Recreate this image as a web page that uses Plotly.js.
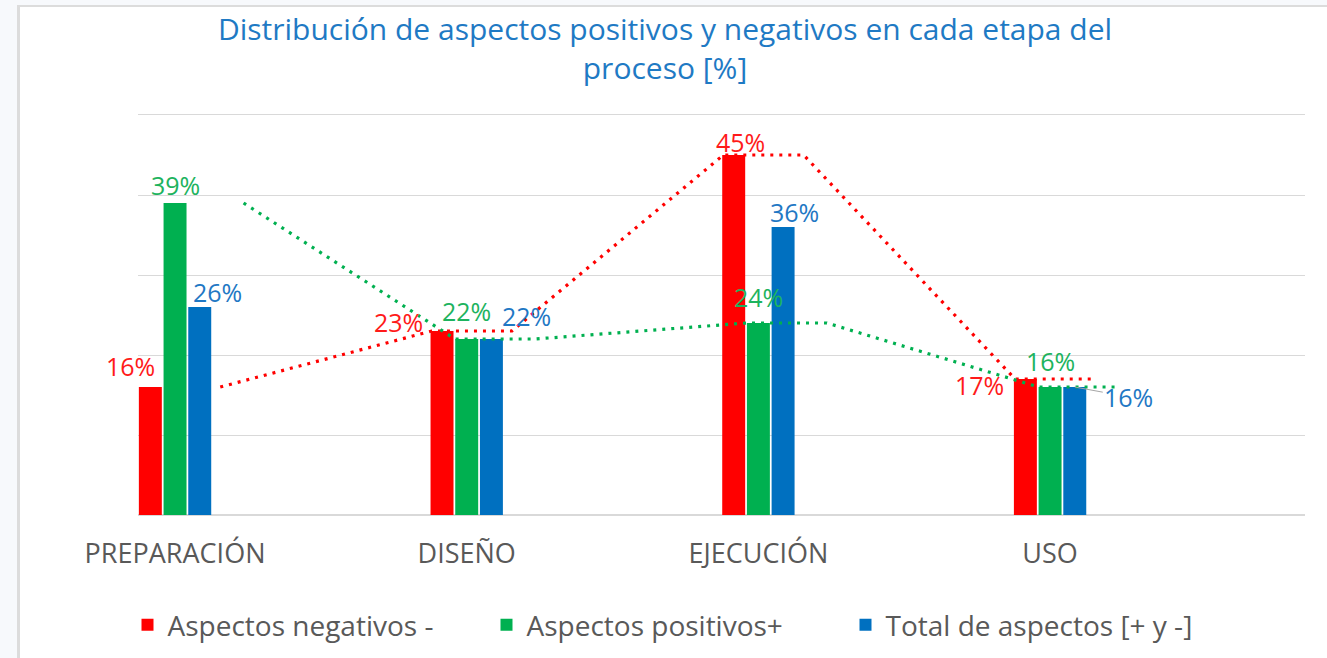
<!DOCTYPE html>
<html>
<head>
<meta charset="utf-8">
<script src="https://cdn.plot.ly/plotly-3.0.1.min.js"></script>
<style>
  html, body { margin: 0; padding: 0; width: 1327px; height: 658px; overflow: hidden; background: #f7f9fc; }
  #frame { position: absolute; left: 17px; top: 5px; width: 1310px; height: 653px;
           border-left: 3px solid #dcdcdc; border-top: 2px solid #dcdcdc; background: #ffffff; }
  #chart { width: 1307px; height: 651px; }
</style>
</head>
<body>
<div id="frame"><div id="chart"></div></div>
<script>
// ---- data ----
const categories = ['PREPARACIÓN', 'DISEÑO', 'EJECUCIÓN', 'USO'];
const negativos = [16, 23, 45, 17];
const positivos = [39, 22, 24, 16];
const totales   = [26, 22, 36, 16];
const seriesNames = ['Aspectos negativos -', 'Aspectos positivos+', 'Total de aspectos [+ y -]'];
const titleText = 'Distribución de aspectos positivos y negativos en cada etapa del<br>proceso [%]';
const gridTicks = [0, 10, 20, 30, 40, 50];

// ---- styling / positions ----
const barColors = ['#FF0000', '#00B050', '#0070C0'];
const labelColors = ['#FF1A1A', '#1DB35E', '#1F78C4'];
const BARGAP = 0.746;
const slot = (1 - BARGAP) / 3;
const idx = categories.map((c, i) => i);

// label pixel offsets [xshift, yshift] per series, per category
const labelOffsets = [
  [[-20, 21], [-44, 9], [7, 13], [-46, -6]],
  [[0, 18], [0, 28], [0, 26], [0, 26]],
  [[18, 15], [35, 23], [11, 15], [54, -10]]
];
// dotted guide lines (start/end offsets around each category, in category units)
const redSeg = [-0.12, 0.155];
const greenSeg = [-0.04, 0.235];

const allSeries = [negativos, positivos, totales];

const traces = allSeries.map((vals, s) => ({
  type: 'bar',
  x: idx,
  y: vals,
  name: seriesNames[s],
  marker: { color: barColors[s], line: { width: 0 } },
  hoverinfo: 'skip'
}));

function guide(vals, seg) {
  const xs = [], ys = [];
  vals.forEach((v, k) => {
    if (k > 0) { xs.push(k + seg[0]); ys.push(v); }
    xs.push(k + seg[1]); ys.push(v);
  });
  return { xs, ys };
}
const gRed = guide(negativos, redSeg);
const gGreen = guide(positivos, greenSeg);

traces.push({
  type: 'scatter', mode: 'lines', x: gRed.xs, y: gRed.ys, showlegend: false, hoverinfo: 'skip',
  line: { color: '#FF0000', width: 3.2, dash: '3px,6px' }
});
traces.push({
  type: 'scatter', mode: 'lines', x: gGreen.xs, y: gGreen.ys, showlegend: false, hoverinfo: 'skip',
  line: { color: '#00B050', width: 3.2, dash: '3px,6px' }
});

const annotations = [];
allSeries.forEach((vals, s) => {
  vals.forEach((v, k) => {
    const off = labelOffsets[s][k];
    const xb = k + (s - 1) * slot;
    const isLeader = (s === 2 && k === categories.length - 1);
    const a = {
      x: xb, y: v, xref: 'x', yref: 'y',
      text: v + '%',
      font: { family: 'Open Sans', size: 25, color: labelColors[s] },
      xanchor: 'center', yanchor: 'middle'
    };
    if (isLeader) {
      a.showarrow = true; a.ax = off[0]; a.ay = -off[1];
      a.arrowhead = 0; a.arrowwidth = 1; a.arrowcolor = '#a6a6a6'; a.standoff = 0;
    } else {
      a.showarrow = false; a.xshift = off[0]; a.yshift = off[1];
    }
    annotations.push(a);
  });
});

const layout = {
  width: 1307, height: 651,
  margin: { l: 118, r: 22, t: 108, b: 143, autoexpand: false },
  paper_bgcolor: '#ffffff', plot_bgcolor: '#ffffff',
  barmode: 'group', bargap: BARGAP, bargroupgap: 0.07,
  font: { family: 'Open Sans', color: '#595959' },
  title: {
    text: titleText,
    font: { family: 'Open Sans', size: 30, color: '#1F7AC4' },
    xref: 'container', x: 0.4935, xanchor: 'center',
    yref: 'container', y: 0.949, yanchor: 'top'
  },
  xaxis: {
    type: 'linear', range: [-0.127, 3.874],
    tickmode: 'array', tickvals: idx, ticktext: categories,
    showgrid: false, zeroline: false,
    showline: true, mirror: true, linecolor: '#d9d9d9', linewidth: 1,
    ticks: '',
    ticklabelstandoff: 15,
    tickfont: { family: 'Open Sans', size: 27, color: '#595959' },
    fixedrange: true
  },
  yaxis: {
    range: [0, 50], tickmode: 'array', tickvals: gridTicks,
    showticklabels: false, ticks: '',
    showgrid: true, gridcolor: '#d9d9d9', gridwidth: 1,
    zeroline: true, zerolinecolor: '#d9d9d9', zerolinewidth: 1.5,
    showline: false, fixedrange: true
  },
  showlegend: true,
  legend: {
    orientation: 'h', x: -0.009, xanchor: 'left', y: -0.275, yanchor: 'middle',
    entrywidth: 314, entrywidthmode: 'pixels',
    font: { family: 'Open Sans', size: 28, color: '#595959' },
    traceorder: 'normal', bgcolor: 'rgba(0,0,0,0)'
  },
  annotations: annotations
};

Plotly.newPlot('chart', traces, layout, { displayModeBar: false, staticPlot: true });
</script>
</body>
</html>
